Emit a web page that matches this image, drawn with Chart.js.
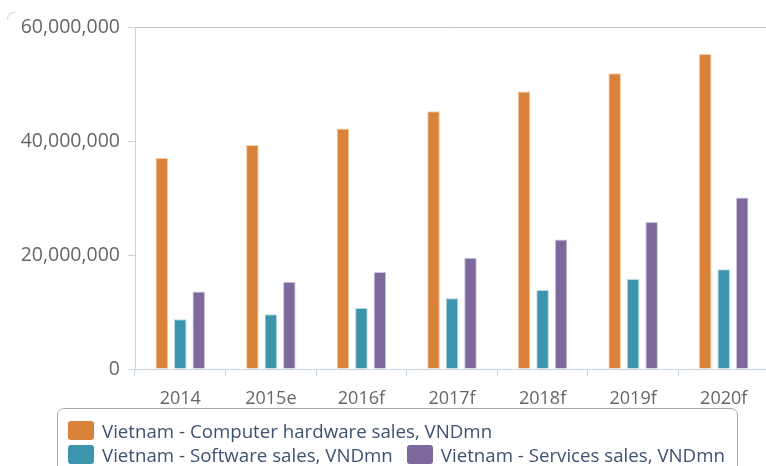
<!DOCTYPE html>
<html>
<head>
<meta charset="utf-8">
<script src="https://cdn.jsdelivr.net/npm/chart.js@4"></script>
<style>
  html, body { margin: 0; padding: 0; background: #fff; overflow: hidden; width: 766px; height: 466px; }
  #wrap { position: absolute; left: 0; top: 0; width: 770px; height: 466px; }
  #corner { position: absolute; left: 7px; top: 12px; width: 7px; height: 7px;
    border-top: 1px solid #d8d8d8; border-left: 1px solid #d8d8d8; border-top-left-radius: 7px; }
  #legend {
    position: absolute; left: 57px; top: 408px; width: 681px; height: 90px;
    border: 1px solid #a8a8a8; border-radius: 7px; box-sizing: border-box;
    padding: 9px 0 0 10px;
    font-family: "Open Sans", sans-serif; font-size: 18.7px; color: #3d5270;
    display: flex; flex-wrap: wrap; align-content: flex-start; column-gap: 14px; row-gap: 0;
  }
  .item { display: flex; align-items: center; height: 24px; white-space: nowrap; }
  .sw { width: 26px; height: 19px; border-radius: 3px; margin-right: 8px; box-sizing: border-box; }
</style>
</head>
<body>
<div id="wrap"><canvas id="c" width="770" height="466"></canvas></div>
<div id="corner"></div>
<div id="legend"></div>
<script>
const categories = ["2014", "2015e", "2016f", "2017f", "2018f", "2019f", "2020f"];
const seriesNames = [
  "Vietnam - Computer hardware sales, VNDmn",
  "Vietnam - Software sales, VNDmn",
  "Vietnam - Services sales, VNDmn"
];
const hardwareSales = [37000000, 39300000, 42200000, 45200000, 48700000, 51900000, 55250000];
const softwareSales = [8750000, 9600000, 10700000, 12400000, 13850000, 15800000, 17500000];
const servicesSales = [13600000, 15300000, 17000000, 19500000, 22700000, 25800000, 30100000];
const yTicks = [0, 20000000, 40000000, 60000000];

const fills = ["#db823a", "#3c95ad", "#7e699c"];
const edges = ["#f3cda6", "#b5dbe5", "#cfc4de"];
const axisBlue = "#c4d3e2";

const chart = new Chart(document.getElementById("c"), {
  type: "bar",
  data: {
    labels: categories,
    datasets: [hardwareSales, softwareSales, servicesSales].map((d, i) => ({
      label: seriesNames[i],
      data: d,
      backgroundColor: fills[i],
      borderColor: edges[i],
      borderWidth: 1,
      categoryPercentage: 0.612,
      barPercentage: 0.68
    }))
  },
  options: {
    responsive: false,
    animation: false,
    layout: { padding: { top: 27, right: 1, left: 0, bottom: 0 } },
    plugins: { legend: { display: false }, tooltip: { enabled: false } },
    scales: {
      x: {
        grid: { offset: true, drawOnChartArea: false, drawTicks: true, tickLength: 7, color: axisBlue },
        border: { color: axisBlue, width: 1 },
        ticks: { color: "#666", font: { family: "Open Sans", size: 18 }, padding: 12, maxRotation: 0 },
        afterFit: s => { s.height = 97; }
      },
      y: {
        min: 0, max: 60000000,
        afterBuildTicks: s => { s.ticks = yTicks.map(v => ({ value: v })); },
        grid: {
          drawOnChartArea: true,
          color: c => (c.tick && c.tick.value === 60000000) ? "#c9c9c9" : "rgba(0,0,0,0)",
          tickColor: axisBlue, tickLength: 7
        },
        border: { color: axisBlue, width: 1 },
        ticks: {
          color: "#666", font: { family: "Open Sans", size: 19.5 }, padding: 8,
          callback: v => v.toLocaleString("en-US")
        },
        afterFit: s => { s.width = 135; }
      }
    }
  }
});

const leg = document.getElementById("legend");
chart.data.datasets.forEach(ds => {
  const it = document.createElement("div");
  it.className = "item";
  const sw = document.createElement("span");
  sw.className = "sw";
  sw.style.background = ds.backgroundColor;
  it.appendChild(sw);
  const t = document.createElement("span");
  t.textContent = ds.label;
  it.appendChild(t);
  leg.appendChild(it);
});
</script>
</body>
</html>
